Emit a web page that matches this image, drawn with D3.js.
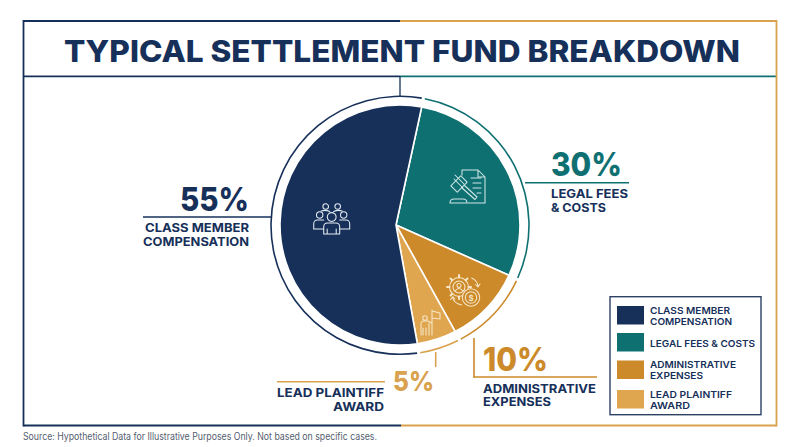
<!DOCTYPE html>
<html><head><meta charset="utf-8">
<script src="https://cdn.jsdelivr.net/npm/d3@7/dist/d3.min.js"></script>
<style>html,body{margin:0;padding:0;background:#fff}svg{display:block}text{font-family:Inter,"Liberation Sans",sans-serif}</style>
</head><body><svg id="c" width="800" height="447"></svg>
<script>
const categories = ["LEGAL FEES & COSTS","ADMINISTRATIVE EXPENSES","LEAD PLAINTIFF AWARD","CLASS MEMBER COMPENSATION"];
const values = [29,10.5,5.3,55.2];
const sliceColors = ["#0f7072","#cc8a2b","#e0a64f","#16305a"];
const legendOrder = [3,0,1,2];
const legendLines = [["CLASS MEMBER","COMPENSATION"],["LEGAL FEES & COSTS"],["ADMINISTRATIVE","EXPENSES"],["LEAD PLAINTIFF","AWARD"]];
const NAVY="#16305a", TEAL="#0f7072", GOLD="#d9a24e", ORANGE="#cc8a2b", INK="#16305a";
const svg=d3.select("#c");
const cx=400, cy=225, R=120, ringR=129, apexX=396;
function line(x1,y1,x2,y2,c,w){svg.append("line").attr("x1",x1).attr("y1",y1).attr("x2",x2).attr("y2",y2).attr("stroke",c).attr("stroke-width",w||1.6);}
function txt(s,x,y,size,weight,fill,anchor,len){const t=svg.append("text").attr("x",x).attr("y",y).attr("font-size",size).attr("font-weight",weight).attr("fill",fill).attr("text-anchor",anchor||"start").text(s);
 if(len){t.attr("textLength",len).attr("lengthAdjust","spacingAndGlyphs");}return t;}
// frame
line(23.5,21,400,21,NAVY,1.8); line(400,21,776.5,21,GOLD,1.8);
line(23.5,76.3,400,76.3,NAVY,1.8); line(400,76.3,776.5,76.3,TEAL,1.8);
line(23.5,20.1,23.5,426.4,NAVY,1.8); line(776.5,20.1,776.5,426.4,GOLD,1.8);
line(23.5,425.5,401,425.5,NAVY,1.8); line(401,425.5,776.5,425.5,GOLD,1.8);
line(400,76.3,400,96,NAVY,1.3);
txt("TYPICAL SETTLEMENT FUND BREAKDOWN",64,62,30,800,INK,"start",676);
// pie
const pie=d3.pie().sort(null).value(d=>d).startAngle(10.4*Math.PI/180).endAngle((360+10.4)*Math.PI/180);
const arcs=pie(values);
const pt=(a,r)=>[cx+r*Math.sin(a),cy-r*Math.cos(a)];
const g=svg.append("g");
g.selectAll("path.slice").data(arcs).join("path").attr("class","slice")
 .attr("fill",(d,i)=>sliceColors[i]).attr("stroke","#fff").attr("stroke-width",1.6).attr("stroke-linejoin","round")
 .attr("d",d=>{const p=d3.path();p.moveTo(apexX,cy);const s=pt(d.startAngle,R);p.lineTo(s[0],s[1]);
   p.arc(cx,cy,R,d.startAngle-Math.PI/2,d.endAngle-Math.PI/2);p.closePath();return p.toString();});
// ring
const ring=d3.arc().innerRadius(ringR-.8).outerRadius(ringR+.8).padAngle(0.024).padRadius(ringR);
const ringColors=[TEAL,ORANGE,GOLD,NAVY];
svg.append("g").attr("transform",`translate(${cx},${cy+0.3})`).selectAll("path").data(arcs).join("path")
 .attr("fill",(d,i)=>ringColors[i]).attr("d",ring);
// callouts
txt("55%",249,211,33,800,INK,"end",69);
line(143,217,272,217,NAVY,1.6);
txt("CLASS MEMBER",249,232,12,700,INK,"end",104);
txt("COMPENSATION",249,246,12,700,INK,"end",106);
txt("30%",551,176,33,800,TEAL,"start",71);
line(525,182.7,629,182.7,TEAL,1.6);
txt("LEGAL FEES",551,198,12,700,INK,"start",77);
txt("& COSTS",551,212,12,700,INK,"start",55);
txt("10%",483,371,33,800,ORANGE,"start",65);
line(474,338,474,377.6,ORANGE,1.6); line(473.2,377,597,377,ORANGE,1.6);
txt("ADMINISTRATIVE",483,392.5,12,700,INK,"start",113);
txt("EXPENSES",483,406,12,700,INK,"start",68);
txt("5%",393,391,27,800,GOLD,"start",41);
line(435.7,352,435.7,367,GOLD,1.6); line(277,381.7,385,381.7,GOLD,1.6);
txt("LEAD PLAINTIFF",384,396.7,12,700,INK,"end",107);
txt("AWARD",384,410.7,12,700,INK,"end",51);
// legend
svg.append("rect").attr("x",610).attr("y",296.7).attr("width",151).attr("height",118).attr("fill","#fff").attr("stroke","#2c4163").attr("stroke-width",1.4);
const swY=[306,333,360.5,390], swH=[18.5,18.5,18.5,18.5];
const lb=[[314,324.7],[346.7],[368.3,379],[398,408.7]];
const lw=[[80,82],[105],[86,53],[82,40]];
legendOrder.forEach((k,i)=>{
 svg.append("rect").attr("x",617).attr("y",swY[i]).attr("width",27).attr("height",swH[i]).attr("fill",sliceColors[k]);
 legendLines[i].forEach((s,j)=>txt(s,650,lb[i][j],9.6,600,INK,"start",lw[i][j]));
});
txt("Source: Hypothetical Data for Illustrative Purposes Only. Not based on specific cases.",23,439.5,9.8,400,"#55606e","start",354);
// icons
function icon(x,y,color){return svg.append("g").attr("transform",`translate(${x},${y})`).attr("fill","none").attr("stroke",color).attr("stroke-width",1.05).attr("stroke-linecap","round").attr("stroke-linejoin","round");}
function circ(g,x,y,r){g.append("circle").attr("cx",x).attr("cy",y).attr("r",r);}
function pth(g,d){g.append("path").attr("d",d);}
// people
let ic=icon(331.7,220,"#e4ebf2");
circ(ic,-6,-13.5,2.8);circ(ic,6,-13.5,2.8);circ(ic,-12,-5,3.2);circ(ic,12,-5,3.2);circ(ic,0,-3,4.4);
pth(ic,"M-10.5,-9 Q-6,-10.5 -2,-8.5 M10.5,-9 Q6,-10.5 2,-8.5");
pth(ic,"M-8,14V7Q-8,3 -4,3H4Q8,3 8,7V14H-8Z M-4.5,14V9 M4.5,14V9");
pth(ic,"M-8,9H-18V4Q-18,0 -14,0H-8 M8,9H18V4Q18,0 14,0H8");
// legal
ic=icon(469,190,"#cfe6e6");
pth(ic,"M-7,-15V-20H9L16,-13V13H-1 M9,-20V-13H16");
pth(ic,"M2,-12H12 M4,-7H12 M4,-2H12 M8,3H12");
ic.append("rect").attr("x",-17).attr("y",-4.5).attr("width",14).attr("height",9).attr("transform","translate(0,-6) rotate(-45,-10,0)");
pth(ic,"M-14,-15L-5,-6 M-15,-11L-6,-2");
pth(ic,"M-5,-5L8,7L6,9.5L-7.5,-2.5");
pth(ic,"M-19,13H-2Q-2,9 -6,9H-15Q-19,9 -19,13Z");
// admin
ic=icon(462,294,"#f6e6c8");
const gear=[];for(let i=0;i<8;i++){gear.push(i*Math.PI/4);}
circ(ic,-3,-7,9.5);circ(ic,-3,-7,6);circ(ic,-3,-8.5,2);pth(ic,"M-7,-3Q-3,-8 1,-3");
ic.selectAll("line.t").data(gear).join("line").attr("x1",d=>-3+9.5*Math.cos(d)).attr("y1",d=>-7+9.5*Math.sin(d)).attr("x2",d=>-3+12*Math.cos(d)).attr("y2",d=>-7+12*Math.sin(d)).attr("stroke-width",2);
ic.append("circle").attr("cx",9).attr("cy",3.5).attr("r",8.7).attr("fill","#cc8a2b");circ(ic,9,3.5,5.7);
ic.append("text").attr("x",9).attr("y",6.5).attr("text-anchor","middle").attr("font-size",8).attr("font-weight",600).attr("stroke","none").attr("fill","#f6e6c8").text("$");
pth(ic,"M9.7,-16Q16,-13 16,-7 M16,-7L13.5,-9.5 M16,-7L18,-10");
pth(ic,"M-9.3,2.7Q-9,9 -0.3,11 M-9.3,2.7L-11.5,5.5 M-9.3,2.7L-7,5");
// plaintiff
ic=icon(427,326,"#f6e6c8");
circ(ic,-2,-8,2.3);
pth(ic,"M-6,9V-2Q-6,-5 -3,-5H1L5,-3 M-4,9V2 M-1,9V2 M2,9V-3");
pth(ic,"M5,9V-16 M5,-15L13,-13V-7L5,-8");
</script></body></html>
